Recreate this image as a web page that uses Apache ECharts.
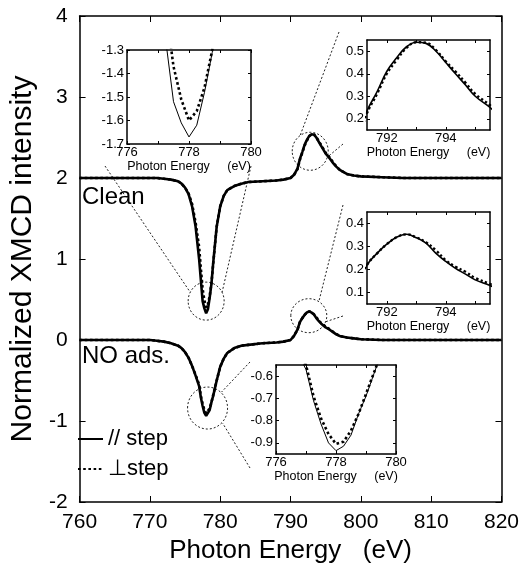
<!DOCTYPE html>
<html><head><meta charset="utf-8">
<script src="https://cdn.jsdelivr.net/npm/echarts@6.0.0/dist/echarts.min.js"></script>
<style>html,body{margin:0;padding:0;background:#fff;}#c{width:522px;height:569px;}</style>
</head><body><div id="c"></div>
<script>
// ---------- data (raw XMCD) ----------
const energy = [760, 765, 768, 770, 771, 772, 773, 774, 774.5, 775,
  775.5, 776, 776.5, 777, 777.25, 777.5, 777.75, 778, 778.25, 778.5,
  778.75, 779, 779.5, 780, 780.5, 781, 782, 783, 784, 786,
  788, 789, 790, 790.5, 791, 791.33, 791.67, 792, 792.33, 792.67,
  793, 793.33, 793.67, 794, 794.33, 794.67, 795, 795.5, 796, 796.5,
  797, 798, 799, 800, 803, 806, 810, 815, 820];
const cleanPar = [0, 0, 0, 0, 0, -0.01, -0.02, -0.04, -0.07, -0.12,
  -0.2, -0.35, -0.6, -1.0, -1.26, -1.52, -1.61, -1.67, -1.62, -1.48,
  -1.31, -1.05, -0.6, -0.35, -0.22, -0.15, -0.1, -0.07, -0.05, -0.04,
  -0.03, -0.02, 0, 0.04, 0.12, 0.235, 0.32, 0.41, 0.47, 0.52,
  0.54, 0.535, 0.5, 0.45, 0.4, 0.35, 0.3, 0.25, 0.19, 0.14,
  0.1, 0.05, 0.03, 0.02, 0.01, 0, 0, 0, 0];
const cleanPerp = [0, 0, 0, 0, 0, -0.01, -0.02, -0.04, -0.07, -0.12,
  -0.19, -0.32, -0.55, -0.85, -1.12, -1.37, -1.51, -1.6, -1.56, -1.46,
  -1.3, -1.06, -0.6, -0.35, -0.22, -0.15, -0.1, -0.07, -0.05, -0.04,
  -0.03, -0.02, 0, 0.04, 0.11, 0.225, 0.31, 0.4, 0.46, 0.515,
  0.54, 0.538, 0.505, 0.455, 0.41, 0.36, 0.31, 0.26, 0.2, 0.145,
  0.1, 0.05, 0.03, 0.02, 0.01, 0, 0, 0, 0];
const noPar = [0, 0, 0, 0, -0.01, -0.02, -0.04, -0.07, -0.1, -0.15,
  -0.22, -0.32, -0.44, -0.57, -0.71, -0.815, -0.9, -0.935, -0.915, -0.865,
  -0.77, -0.69, -0.5, -0.33, -0.23, -0.16, -0.1, -0.07, -0.06, -0.04,
  -0.03, -0.02, 0, 0.05, 0.13, 0.22, 0.27, 0.31, 0.34, 0.353,
  0.338, 0.315, 0.27, 0.235, 0.205, 0.18, 0.155, 0.13, 0.1, 0.07,
  0.05, 0.03, 0.02, 0.01, 0, 0, 0, 0, 0];
const noPerp = [0, 0, 0, 0, -0.01, -0.02, -0.04, -0.07, -0.1, -0.15,
  -0.22, -0.32, -0.43, -0.55, -0.69, -0.79, -0.86, -0.905, -0.895, -0.845,
  -0.77, -0.68, -0.5, -0.33, -0.23, -0.16, -0.1, -0.07, -0.06, -0.04,
  -0.03, -0.02, 0, 0.05, 0.13, 0.22, 0.27, 0.31, 0.34, 0.353,
  0.34, 0.318, 0.283, 0.24, 0.212, 0.19, 0.163, 0.137, 0.105, 0.075,
  0.05, 0.03, 0.02, 0.01, 0, 0, 0, 0, 0];
const cleanOffset = 2;
const seriesNames = ['// step', '\u22A5step'];
const sampleLabels = ['Clean', 'NO ads.'];

// axis ranges / ticks
const mainX = [760, 820], mainXStep = 10;
const mainY = [-2, 4], mainYStep = 1;
const lowX = [776, 780], lowXLabels = [776, 778, 780], lowXTicks = [776, 777, 778, 779, 780];
const highX = [791.33, 795.5], highXLabels = [792, 794], highXTicks = [792, 793, 794, 795];
const inset1Y = [-1.7, -1.3], inset1YTicks = [-1.7, -1.6, -1.5, -1.4, -1.3];
const inset2Y = [0.15, 0.55], inset2YTicks = [0.2, 0.3, 0.4, 0.5];
const inset3Y = [0.05, 0.45], inset3YTicks = [0.1, 0.2, 0.3, 0.4];
const inset4Y = [-0.95, -0.55], inset4YTicks = [-0.9, -0.8, -0.7, -0.6];
// zoom circles, centres in main-plot data coordinates
const zoomCentres = [[778, 0.48], [792.8, 2.33], [792.6, 0.3], [778.2, -0.84]];

// ---------- chart ----------
const FONT = '"Liberation Sans", Arial, Helvetica, sans-serif';
const BLACK = '#000';
const chart = echarts.init(document.getElementById('c'));
const pts = (arr, d) => energy.map((e, i) => [e, arr[i] + (d || 0)]);

const grids = [
  {left: 75, top: 16, width: 428, height: 486},
  {left: 127, top: 50, width: 124, height: 94},
  {left: 367, top: 40, width: 123, height: 90},
  {left: 367, top: 212, width: 123, height: 92},
  {left: 276, top: 365, width: 120, height: 89}
];

function axes(dim, g, o) {
  const tick = {inside: true, length: o.tl, lineStyle: {color: BLACK, width: 1}};
  if (o.ticks) tick.customValues = o.ticks;
  const base = () => ({
    gridIndex: g, type: 'value', min: o.range[0], max: o.range[1],
    splitLine: {show: false},
    axisLine: {onZero: false, lineStyle: {color: BLACK, width: o.lw}},
    axisTick: JSON.parse(JSON.stringify(tick))
  });
  const a = base(), b = base();
  if (o.interval) { a.interval = o.interval; b.interval = o.interval; }
  a.position = dim === 'x' ? 'bottom' : 'left';
  b.position = dim === 'x' ? 'top' : 'right';
  a.axisLabel = {color: BLACK, fontSize: o.fs, margin: o.lm, fontFamily: FONT};
  if (o.labels) a.axisLabel.customValues = o.labels;
  if (o.fmt) a.axisLabel.formatter = o.fmt;
  b.axisLabel = {show: false};
  if (o.name) {
    a.name = o.name; a.nameLocation = 'middle'; a.nameGap = o.ng;
    a.nameTextStyle = {color: BLACK, fontSize: o.nfs, fontFamily: FONT};
  }
  return [a, b];
}
const f1 = v => (+v).toFixed(1);
const insetName = 'Photon Energy     (eV)';
const xAxis = [].concat(
  axes('x', 0, {range: mainX, interval: mainXStep, lw: 1.5, tl: 6, fs: 21, lm: 10, name: 'Photon Energy   (eV)', ng: 36, nfs: 26}),
  axes('x', 1, {range: lowX, ticks: lowXTicks, labels: lowXLabels, lw: 1.5, tl: 3, fs: 13, lm: 2, name: insetName, ng: 14, nfs: 12.5}),
  axes('x', 2, {range: highX, ticks: highXTicks, labels: highXLabels, lw: 1.5, tl: 3, fs: 13, lm: 2, name: insetName, ng: 14, nfs: 12.5}),
  axes('x', 3, {range: highX, ticks: highXTicks, labels: highXLabels, lw: 1.5, tl: 3, fs: 13, lm: 2, name: insetName, ng: 14, nfs: 12.5}),
  axes('x', 4, {range: lowX, ticks: lowXTicks, labels: lowXLabels, lw: 1.5, tl: 3, fs: 13, lm: 2, name: insetName, ng: 14, nfs: 12.5})
);
const yAxis = [].concat(
  axes('y', 0, {range: mainY, interval: mainYStep, lw: 1.5, tl: 6, fs: 21, lm: 12, name: 'Normalized XMCD intensity', ng: 33, nfs: 30}),
  axes('y', 1, {range: inset1Y, ticks: inset1YTicks, labels: inset1YTicks, lw: 1.5, tl: 3, fs: 13, lm: 3, fmt: f1}),
  axes('y', 2, {range: inset2Y, ticks: inset2YTicks, labels: inset2YTicks, lw: 1.5, tl: 3, fs: 13, lm: 3, fmt: f1}),
  axes('y', 3, {range: inset3Y, ticks: inset3YTicks, labels: inset3YTicks, lw: 1.5, tl: 3, fs: 13, lm: 3, fmt: f1}),
  axes('y', 4, {range: inset4Y, ticks: inset4YTicks, labels: inset4YTicks, lw: 1.5, tl: 3, fs: 13, lm: 3, fmt: f1})
);

function line(name, g, data, perp, w, smooth) {
  return {
    name: name, type: 'line', xAxisIndex: 2 * g, yAxisIndex: 2 * g, data: data,
    symbol: 'none', showSymbol: false, smooth: smooth || false, clip: true, z: perp ? 3 : 4,
    itemStyle: {color: BLACK},
    lineStyle: {color: BLACK, width: w, type: perp ? [w, w] : 'solid'}
  };
}
const series = [
  line(seriesNames[0], 0, pts(cleanPar, cleanOffset), false, 2.6),
  line(seriesNames[1], 0, pts(cleanPerp, cleanOffset), true, 2.6),
  line(seriesNames[0], 0, pts(noPar), false, 2.6),
  line(seriesNames[1], 0, pts(noPerp), true, 2.6),
  line(seriesNames[1], 1, pts(cleanPerp), true, 2.6),
  line(seriesNames[0], 1, pts(cleanPar), false, 1),
  line(seriesNames[1], 2, pts(cleanPerp), true, 2.4, 0.4),
  line(seriesNames[0], 2, pts(cleanPar), false, 1.6, 0.4),
  line(seriesNames[1], 3, pts(noPerp), true, 2.4, 0.4),
  line(seriesNames[0], 3, pts(noPar), false, 1.6, 0.4),
  line(seriesNames[1], 4, pts(noPerp), true, 2.6),
  line(seriesNames[0], 4, pts(noPar), false, 1)
];

chart.setOption({
  animation: false,
  backgroundColor: '#fff',
  textStyle: {fontFamily: FONT},
  grid: grids.map((g, i) => Object.assign({show: i > 0, backgroundColor: '#fff', borderWidth: 0}, g)),
  xAxis: xAxis,
  yAxis: yAxis,
  legend: {
    data: seriesNames, orient: 'vertical', left: 72, top: 423,
    itemWidth: 25, itemHeight: 14, itemGap: 8, selectedMode: false,
    itemStyle: {opacity: 0},
    textStyle: {fontSize: 22, color: BLACK, fontFamily: FONT}
  },
  series: series
});

// ---------- annotations (zoom circles, guide lines, labels) ----------
const px = (g, p) => chart.convertToPixel({xAxisIndex: 2 * g, yAxisIndex: 2 * g}, p);
const rect = (g, xr, yr) => { const a = px(g, [xr[0], yr[1]]), b = px(g, [xr[1], yr[0]]); return {l: a[0], t: a[1], r: b[0], b: b[1]}; };
const c = zoomCentres.map(p => px(0, p));
const R1 = rect(1, lowX, inset1Y), R2 = rect(2, highX, inset2Y), R3 = rect(3, highX, inset3Y), R4 = rect(4, lowX, inset4Y);
const dash = {fill: null, stroke: '#222', lineWidth: 1, lineDash: [2, 2]};
const ell = (p, rx, ry) => ({type: 'ellipse', silent: true, z: 1, shape: {cx: p[0], cy: p[1], rx: rx, ry: ry}, style: dash});
const seg = (a, b) => ({type: 'line', silent: true, z: 1, shape: {x1: a[0], y1: a[1], x2: b[0], y2: b[1]}, style: dash});
const txt = (s, x, y) => ({type: 'text', silent: true, z: 5, x: x, y: y, style: {text: s, fill: BLACK, font: '24px ' + FONT, textVerticalAlign: 'middle'}});
chart.setOption({graphic: [
  ell(c[0], 18, 19), ell(c[1], 18, 19), ell(c[2], 18, 17), ell(c[3], 20, 21),
  seg([R1.l - 22, R1.b + 22], [c[0][0] - 16, c[0][1] - 9]),
  seg([R1.r, R1.b + 22], [c[0][0] + 16, c[0][1] - 9]),
  seg([R2.l - 28, R2.t - 8], [c[1][0] - 10, c[1][1] - 16]),
  seg([R2.l - 24, R2.b + 14], [c[1][0] + 17, c[1][1] + 6]),
  seg([R3.l - 24, R3.t - 7], [c[2][0] + 10, c[2][1] - 14]),
  seg([R3.l - 24, R3.b + 12], [c[2][0] + 17, c[2][1] + 6]),
  seg([R4.l - 26, R4.t - 3], [c[3][0] + 14, c[3][1] - 16]),
  seg([R4.l - 26, R4.b + 14], [c[3][0] + 15, c[3][1] + 15]),
  txt(sampleLabels[0], 82, 197),
  txt(sampleLabels[1], 82, 356)
]});
</script></body></html>
